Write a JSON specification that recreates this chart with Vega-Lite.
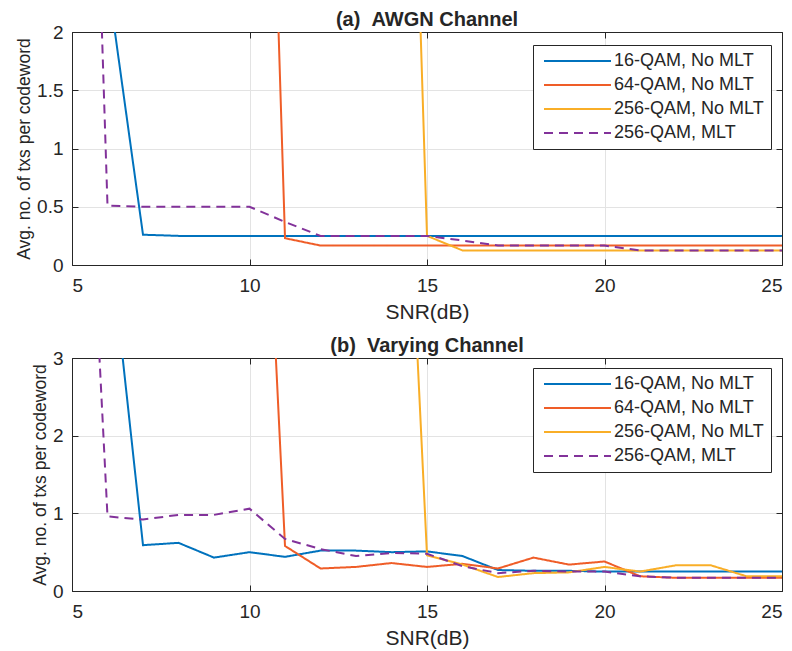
{
  "$schema": "https://vega.github.io/schema/vega-lite/v6.json",
  "padding": {"top": 9, "left": 15, "right": 10, "bottom": 0},
  "background": "white",
  "config": {
    "font": "Liberation Sans",
    "view": {"stroke": "#262626", "strokeWidth": 1},
    "axis": {
      "labelFont": "Liberation Sans",
      "titleFont": "Liberation Sans",
      "labelFontSize": 19,
      "titleFontWeight": "normal",
      "labelColor": "#262626",
      "titleColor": "#262626",
      "domainColor": "#262626",
      "tickColor": "#262626",
      "tickSize": -6,
      "gridColor": "#e3e3e3",
      "gridWidth": 1
    },
    "axisX": {"labelPadding": 17, "titleFontSize": 21, "titlePadding": 6},
    "axisY": {"labelPadding": 15, "titleFontSize": 17.5, "titlePadding": 3},
    "title": {"fontSize": 20, "fontWeight": "bold", "color": "#262626", "offset": -7, "anchor": "middle"},
    "legend": {
      "labelFont": "Liberation Sans",
      "labelFontSize": 18,
      "labelColor": "#262626"
    }
  },
  "datasets": {
    "awgn": [
      {"s": "16-QAM, No MLT", "snr": 5, "v": 10}, {"s": "16-QAM, No MLT", "snr": 6, "v": 2.46}, {"s": "16-QAM, No MLT", "snr": 7, "v": 0.26}, {"s": "16-QAM, No MLT", "snr": 8, "v": 0.25}, {"s": "16-QAM, No MLT", "snr": 9, "v": 0.25}, {"s": "16-QAM, No MLT", "snr": 10, "v": 0.25}, {"s": "16-QAM, No MLT", "snr": 11, "v": 0.25}, {"s": "16-QAM, No MLT", "snr": 12, "v": 0.25}, {"s": "16-QAM, No MLT", "snr": 13, "v": 0.25}, {"s": "16-QAM, No MLT", "snr": 14, "v": 0.25}, {"s": "16-QAM, No MLT", "snr": 15, "v": 0.25}, {"s": "16-QAM, No MLT", "snr": 16, "v": 0.25}, {"s": "16-QAM, No MLT", "snr": 17, "v": 0.25}, {"s": "16-QAM, No MLT", "snr": 18, "v": 0.25}, {"s": "16-QAM, No MLT", "snr": 19, "v": 0.25}, {"s": "16-QAM, No MLT", "snr": 20, "v": 0.25}, {"s": "16-QAM, No MLT", "snr": 21, "v": 0.25}, {"s": "16-QAM, No MLT", "snr": 22, "v": 0.25}, {"s": "16-QAM, No MLT", "snr": 23, "v": 0.25}, {"s": "16-QAM, No MLT", "snr": 24, "v": 0.25}, {"s": "16-QAM, No MLT", "snr": 25, "v": 0.25},
      {"s": "64-QAM, No MLT", "snr": 5, "v": 10}, {"s": "64-QAM, No MLT", "snr": 6, "v": 10}, {"s": "64-QAM, No MLT", "snr": 7, "v": 10}, {"s": "64-QAM, No MLT", "snr": 8, "v": 10}, {"s": "64-QAM, No MLT", "snr": 9, "v": 10}, {"s": "64-QAM, No MLT", "snr": 10, "v": 10}, {"s": "64-QAM, No MLT", "snr": 11, "v": 0.23}, {"s": "64-QAM, No MLT", "snr": 12, "v": 0.167}, {"s": "64-QAM, No MLT", "snr": 13, "v": 0.167}, {"s": "64-QAM, No MLT", "snr": 14, "v": 0.167}, {"s": "64-QAM, No MLT", "snr": 15, "v": 0.167}, {"s": "64-QAM, No MLT", "snr": 16, "v": 0.167}, {"s": "64-QAM, No MLT", "snr": 17, "v": 0.167}, {"s": "64-QAM, No MLT", "snr": 18, "v": 0.167}, {"s": "64-QAM, No MLT", "snr": 19, "v": 0.167}, {"s": "64-QAM, No MLT", "snr": 20, "v": 0.167}, {"s": "64-QAM, No MLT", "snr": 21, "v": 0.167}, {"s": "64-QAM, No MLT", "snr": 22, "v": 0.167}, {"s": "64-QAM, No MLT", "snr": 23, "v": 0.167}, {"s": "64-QAM, No MLT", "snr": 24, "v": 0.167}, {"s": "64-QAM, No MLT", "snr": 25, "v": 0.167},
      {"s": "256-QAM, No MLT", "snr": 5, "v": 10}, {"s": "256-QAM, No MLT", "snr": 6, "v": 10}, {"s": "256-QAM, No MLT", "snr": 7, "v": 10}, {"s": "256-QAM, No MLT", "snr": 8, "v": 10}, {"s": "256-QAM, No MLT", "snr": 9, "v": 10}, {"s": "256-QAM, No MLT", "snr": 10, "v": 10}, {"s": "256-QAM, No MLT", "snr": 11, "v": 10}, {"s": "256-QAM, No MLT", "snr": 12, "v": 10}, {"s": "256-QAM, No MLT", "snr": 13, "v": 10}, {"s": "256-QAM, No MLT", "snr": 14, "v": 10}, {"s": "256-QAM, No MLT", "snr": 15, "v": 0.25}, {"s": "256-QAM, No MLT", "snr": 16, "v": 0.125}, {"s": "256-QAM, No MLT", "snr": 17, "v": 0.125}, {"s": "256-QAM, No MLT", "snr": 18, "v": 0.125}, {"s": "256-QAM, No MLT", "snr": 19, "v": 0.125}, {"s": "256-QAM, No MLT", "snr": 20, "v": 0.125}, {"s": "256-QAM, No MLT", "snr": 21, "v": 0.125}, {"s": "256-QAM, No MLT", "snr": 22, "v": 0.125}, {"s": "256-QAM, No MLT", "snr": 23, "v": 0.125}, {"s": "256-QAM, No MLT", "snr": 24, "v": 0.125}, {"s": "256-QAM, No MLT", "snr": 25, "v": 0.125},
      {"s": "256-QAM, MLT", "snr": 5, "v": 10}, {"s": "256-QAM, MLT", "snr": 6, "v": 0.51}, {"s": "256-QAM, MLT", "snr": 7, "v": 0.5}, {"s": "256-QAM, MLT", "snr": 8, "v": 0.5}, {"s": "256-QAM, MLT", "snr": 9, "v": 0.5}, {"s": "256-QAM, MLT", "snr": 10, "v": 0.5}, {"s": "256-QAM, MLT", "snr": 11, "v": 0.37}, {"s": "256-QAM, MLT", "snr": 12, "v": 0.25}, {"s": "256-QAM, MLT", "snr": 13, "v": 0.25}, {"s": "256-QAM, MLT", "snr": 14, "v": 0.25}, {"s": "256-QAM, MLT", "snr": 15, "v": 0.25}, {"s": "256-QAM, MLT", "snr": 16, "v": 0.21}, {"s": "256-QAM, MLT", "snr": 17, "v": 0.167}, {"s": "256-QAM, MLT", "snr": 18, "v": 0.167}, {"s": "256-QAM, MLT", "snr": 19, "v": 0.167}, {"s": "256-QAM, MLT", "snr": 20, "v": 0.167}, {"s": "256-QAM, MLT", "snr": 21, "v": 0.125}, {"s": "256-QAM, MLT", "snr": 22, "v": 0.125}, {"s": "256-QAM, MLT", "snr": 23, "v": 0.125}, {"s": "256-QAM, MLT", "snr": 24, "v": 0.125}, {"s": "256-QAM, MLT", "snr": 25, "v": 0.125}
    ],
    "varying": [
      {"s": "16-QAM, No MLT", "snr": 5, "v": 10}, {"s": "16-QAM, No MLT", "snr": 6, "v": 4.8}, {"s": "16-QAM, No MLT", "snr": 7, "v": 0.59}, {"s": "16-QAM, No MLT", "snr": 8, "v": 0.62}, {"s": "16-QAM, No MLT", "snr": 9, "v": 0.43}, {"s": "16-QAM, No MLT", "snr": 10, "v": 0.5}, {"s": "16-QAM, No MLT", "snr": 11, "v": 0.44}, {"s": "16-QAM, No MLT", "snr": 12, "v": 0.52}, {"s": "16-QAM, No MLT", "snr": 13, "v": 0.52}, {"s": "16-QAM, No MLT", "snr": 14, "v": 0.5}, {"s": "16-QAM, No MLT", "snr": 15, "v": 0.51}, {"s": "16-QAM, No MLT", "snr": 16, "v": 0.45}, {"s": "16-QAM, No MLT", "snr": 17, "v": 0.27}, {"s": "16-QAM, No MLT", "snr": 18, "v": 0.26}, {"s": "16-QAM, No MLT", "snr": 19, "v": 0.26}, {"s": "16-QAM, No MLT", "snr": 20, "v": 0.25}, {"s": "16-QAM, No MLT", "snr": 21, "v": 0.25}, {"s": "16-QAM, No MLT", "snr": 22, "v": 0.25}, {"s": "16-QAM, No MLT", "snr": 23, "v": 0.25}, {"s": "16-QAM, No MLT", "snr": 24, "v": 0.25}, {"s": "16-QAM, No MLT", "snr": 25, "v": 0.25},
      {"s": "64-QAM, No MLT", "snr": 5, "v": 10}, {"s": "64-QAM, No MLT", "snr": 6, "v": 10}, {"s": "64-QAM, No MLT", "snr": 7, "v": 10}, {"s": "64-QAM, No MLT", "snr": 8, "v": 10}, {"s": "64-QAM, No MLT", "snr": 9, "v": 10}, {"s": "64-QAM, No MLT", "snr": 10, "v": 10}, {"s": "64-QAM, No MLT", "snr": 11, "v": 0.58}, {"s": "64-QAM, No MLT", "snr": 12, "v": 0.29}, {"s": "64-QAM, No MLT", "snr": 13, "v": 0.31}, {"s": "64-QAM, No MLT", "snr": 14, "v": 0.36}, {"s": "64-QAM, No MLT", "snr": 15, "v": 0.31}, {"s": "64-QAM, No MLT", "snr": 16, "v": 0.35}, {"s": "64-QAM, No MLT", "snr": 17, "v": 0.29}, {"s": "64-QAM, No MLT", "snr": 18, "v": 0.43}, {"s": "64-QAM, No MLT", "snr": 19, "v": 0.34}, {"s": "64-QAM, No MLT", "snr": 20, "v": 0.38}, {"s": "64-QAM, No MLT", "snr": 21, "v": 0.19}, {"s": "64-QAM, No MLT", "snr": 22, "v": 0.17}, {"s": "64-QAM, No MLT", "snr": 23, "v": 0.17}, {"s": "64-QAM, No MLT", "snr": 24, "v": 0.17}, {"s": "64-QAM, No MLT", "snr": 25, "v": 0.17},
      {"s": "256-QAM, No MLT", "snr": 5, "v": 10}, {"s": "256-QAM, No MLT", "snr": 6, "v": 10}, {"s": "256-QAM, No MLT", "snr": 7, "v": 10}, {"s": "256-QAM, No MLT", "snr": 8, "v": 10}, {"s": "256-QAM, No MLT", "snr": 9, "v": 10}, {"s": "256-QAM, No MLT", "snr": 10, "v": 10}, {"s": "256-QAM, No MLT", "snr": 11, "v": 10}, {"s": "256-QAM, No MLT", "snr": 12, "v": 10}, {"s": "256-QAM, No MLT", "snr": 13, "v": 10}, {"s": "256-QAM, No MLT", "snr": 14, "v": 10}, {"s": "256-QAM, No MLT", "snr": 15, "v": 0.46}, {"s": "256-QAM, No MLT", "snr": 16, "v": 0.34}, {"s": "256-QAM, No MLT", "snr": 17, "v": 0.18}, {"s": "256-QAM, No MLT", "snr": 18, "v": 0.23}, {"s": "256-QAM, No MLT", "snr": 19, "v": 0.24}, {"s": "256-QAM, No MLT", "snr": 20, "v": 0.31}, {"s": "256-QAM, No MLT", "snr": 21, "v": 0.25}, {"s": "256-QAM, No MLT", "snr": 22, "v": 0.33}, {"s": "256-QAM, No MLT", "snr": 23, "v": 0.33}, {"s": "256-QAM, No MLT", "snr": 24, "v": 0.19}, {"s": "256-QAM, No MLT", "snr": 25, "v": 0.19},
      {"s": "256-QAM, MLT", "snr": 5, "v": 10}, {"s": "256-QAM, MLT", "snr": 6, "v": 0.96}, {"s": "256-QAM, MLT", "snr": 7, "v": 0.92}, {"s": "256-QAM, MLT", "snr": 8, "v": 0.98}, {"s": "256-QAM, MLT", "snr": 9, "v": 0.98}, {"s": "256-QAM, MLT", "snr": 10, "v": 1.06}, {"s": "256-QAM, MLT", "snr": 11, "v": 0.67}, {"s": "256-QAM, MLT", "snr": 12, "v": 0.54}, {"s": "256-QAM, MLT", "snr": 13, "v": 0.45}, {"s": "256-QAM, MLT", "snr": 14, "v": 0.49}, {"s": "256-QAM, MLT", "snr": 15, "v": 0.48}, {"s": "256-QAM, MLT", "snr": 16, "v": 0.32}, {"s": "256-QAM, MLT", "snr": 17, "v": 0.23}, {"s": "256-QAM, MLT", "snr": 18, "v": 0.26}, {"s": "256-QAM, MLT", "snr": 19, "v": 0.25}, {"s": "256-QAM, MLT", "snr": 20, "v": 0.25}, {"s": "256-QAM, MLT", "snr": 21, "v": 0.19}, {"s": "256-QAM, MLT", "snr": 22, "v": 0.17}, {"s": "256-QAM, MLT", "snr": 23, "v": 0.17}, {"s": "256-QAM, MLT", "snr": 24, "v": 0.17}, {"s": "256-QAM, MLT", "snr": 25, "v": 0.17}
    ]
  },
  "spacing": 12,
  "resolve": {"scale": {"color": "independent", "strokeDash": "independent"}},
  "vconcat": [
    {
      "title": "(a)\u00a0\u00a0AWGN Channel",
      "width": 710,
      "height": 233,
      "data": {"name": "awgn"},
      "resolve": {"axis": {"x": "independent", "y": "independent"}},
      "layer": [
        {
          "mark": {"type": "line", "strokeWidth": 2, "clip": true},
          "encoding": {
            "x": {"field": "snr", "type": "quantitative", "scale": {"domain": [5, 25], "nice": false, "zero": false}, "axis": {"values": [5, 10, 15, 20, 25], "title": "SNR(dB)"}},
            "y": {"field": "v", "type": "quantitative", "scale": {"domain": [0, 2], "nice": false}, "axis": {"values": [0, 0.5, 1, 1.5, 2], "format": "~g", "title": "Avg. no. of txs per codeword"}},
            "color": {"field": "s", "type": "nominal", "scale": {"domain": ["16-QAM, No MLT", "64-QAM, No MLT", "256-QAM, No MLT", "256-QAM, MLT"], "range": ["#0072BD", "#EF5D28", "#F9AE27", "#82329A"]},
              "legend": {"title": null, "orient": "none", "legendX": 461, "legendY": 13, "fillColor": "white", "strokeColor": "#262626", "padding": 7, "symbolType": "M-1,0H12.4", "symbolSize": 100, "symbolStrokeWidth": 2, "labelOffset": 56, "rowPadding": 6,
                "encoding": {"labels": {"dx": {"signal": "indexof(datum.label, '256') == 0 ? 0 : 10"}}, "symbols": {"strokeDash": {"signal": "datum.label == '256-QAM, MLT' ? [9, 6] : [1, 0]"}}}}},
            "strokeDash": {"field": "s", "type": "nominal", "scale": {"domain": ["16-QAM, No MLT", "64-QAM, No MLT", "256-QAM, No MLT", "256-QAM, MLT"], "range": [[1, 0], [1, 0], [1, 0], [9, 6]]}, "legend": null}
          }
        },
        {
          "mark": {"type": "point", "opacity": 0, "clip": true},
          "encoding": {
            "x": {"field": "snr", "type": "quantitative", "scale": {"domain": [5, 25], "nice": false, "zero": false}, "axis": {"orient": "top", "values": [5, 10, 15, 20, 25], "labels": false, "grid": false, "title": null, "labelPadding": 0}},
            "y": {"field": "v", "type": "quantitative", "scale": {"domain": [0, 2], "nice": false}, "axis": {"orient": "right", "values": [0, 0.5, 1, 1.5, 2], "labels": false, "grid": false, "title": null, "labelPadding": 0}}
          }
        }
      ]
    },
    {
      "title": "(b)\u00a0\u00a0Varying Channel",
      "width": 710,
      "height": 233,
      "data": {"name": "varying"},
      "resolve": {"axis": {"x": "independent", "y": "independent"}},
      "layer": [
        {
          "mark": {"type": "line", "strokeWidth": 2, "clip": true},
          "encoding": {
            "x": {"field": "snr", "type": "quantitative", "scale": {"domain": [5, 25], "nice": false, "zero": false}, "axis": {"values": [5, 10, 15, 20, 25], "title": "SNR(dB)"}},
            "y": {"field": "v", "type": "quantitative", "scale": {"domain": [0, 3], "nice": false}, "axis": {"values": [0, 1, 2, 3], "format": "~g", "title": "Avg. no. of txs per codeword"}},
            "color": {"field": "s", "type": "nominal", "scale": {"domain": ["16-QAM, No MLT", "64-QAM, No MLT", "256-QAM, No MLT", "256-QAM, MLT"], "range": ["#0072BD", "#EF5D28", "#F9AE27", "#82329A"]},
              "legend": {"title": null, "orient": "none", "legendX": 461, "legendY": 10, "fillColor": "white", "strokeColor": "#262626", "padding": 7, "symbolType": "M-1,0H12.4", "symbolSize": 100, "symbolStrokeWidth": 2, "labelOffset": 56, "rowPadding": 6,
                "encoding": {"labels": {"dx": {"signal": "indexof(datum.label, '256') == 0 ? 0 : 10"}}, "symbols": {"strokeDash": {"signal": "datum.label == '256-QAM, MLT' ? [9, 6] : [1, 0]"}}}}},
            "strokeDash": {"field": "s", "type": "nominal", "scale": {"domain": ["16-QAM, No MLT", "64-QAM, No MLT", "256-QAM, No MLT", "256-QAM, MLT"], "range": [[1, 0], [1, 0], [1, 0], [9, 6]]}, "legend": null}
          }
        },
        {
          "mark": {"type": "point", "opacity": 0, "clip": true},
          "encoding": {
            "x": {"field": "snr", "type": "quantitative", "scale": {"domain": [5, 25], "nice": false, "zero": false}, "axis": {"orient": "top", "values": [5, 10, 15, 20, 25], "labels": false, "grid": false, "title": null, "labelPadding": 0}},
            "y": {"field": "v", "type": "quantitative", "scale": {"domain": [0, 3], "nice": false}, "axis": {"orient": "right", "values": [0, 1, 2, 3], "labels": false, "grid": false, "title": null, "labelPadding": 0}}
          }
        }
      ]
    }
  ]
}
